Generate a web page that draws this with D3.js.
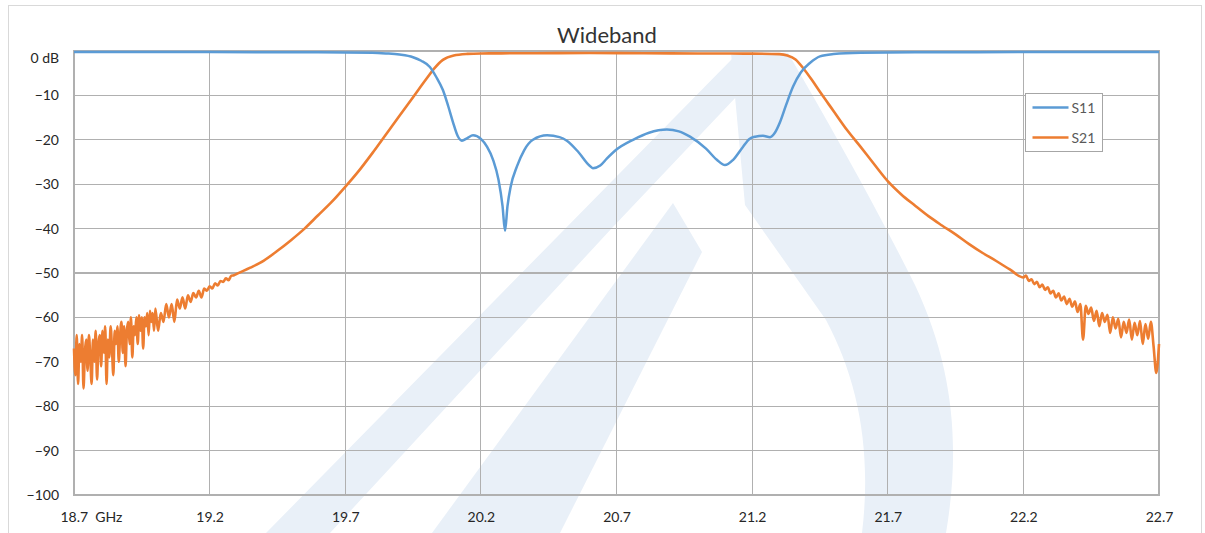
<!DOCTYPE html>
<html>
<head>
<meta charset="utf-8">
<script src="https://cdn.jsdelivr.net/npm/d3@7/dist/d3.min.js"></script>
<style>
  html, body { margin: 0; padding: 0; background: #ffffff; }
  svg { display: block; font-family: Lato, "Open Sans", sans-serif; }
</style>
</head>
<body>
<svg id="chart" width="1205" height="533"></svg>
<script>
// ---------- data ----------
const title = "Wideband";
const seriesNames = ["S11", "S21"];
const seriesColors = ["#5b9bd5", "#ed7d31"];
const xTicks = [18.7, 19.2, 19.7, 20.2, 20.7, 21.2, 21.7, 22.2, 22.7];
const yTicks = [0, -10, -20, -30, -40, -50, -60, -70, -80, -90, -100];
const xUnit = "GHz";
const yUnit = "dB";

// S11 (return loss), GHz / dB
const s11Freq = [18.7, 19.2, 19.6, 19.8, 19.85, 19.9, 19.95, 19.98, 20.012, 20.035, 20.06, 20.08, 20.097, 20.115, 20.13, 20.15, 20.171, 20.2, 20.223, 20.245, 20.265, 20.28, 20.289, 20.298, 20.31, 20.333, 20.36, 20.392, 20.444, 20.49, 20.517, 20.56, 20.6, 20.613, 20.64, 20.665, 20.7, 20.761, 20.82, 20.886, 20.93, 20.971, 21.03, 21.07, 21.1, 21.13, 21.166, 21.19, 21.211, 21.24, 21.266, 21.285, 21.303, 21.325, 21.351, 21.38, 21.413, 21.45, 21.5, 21.6, 21.8, 22.2, 22.7];
const s11Db   = [-0.25, -0.25, -0.3, -0.4, -0.55, -0.8, -1.4, -2.2, -3.6, -5.8, -8.8, -12.5, -16, -19.2, -20.2, -19.6, -19.0, -19.8, -21.6, -24.5, -29, -35, -40.5, -35, -30.5, -26, -22.3, -20, -19, -19.4, -20.2, -22.8, -25.8, -26.4, -25.8, -24.2, -22.2, -20, -18.4, -17.7, -18.1, -19.3, -22, -24.5, -25.7, -24.5, -21.6, -19.8, -19.3, -19.1, -19.4, -18.3, -16, -12.2, -8, -4.8, -2.7, -1.2, -0.7, -0.4, -0.3, -0.25, -0.25];

// S21 (insertion loss): noisy lower skirt, every 0.005 GHz from 18.700
const s21LowStartA = 18.70, s21StepA = 0.005;
const s21LowDbA = [-67, -73, -64, -75, -66, -70, -64, -76, -68, -65,
  -72, -64, -69, -75, -65, -70, -63, -74, -66, -64,
  -71, -63, -68, -62, -75, -65, -69, -62, -67, -73,
  -63, -66, -62, -70, -64, -61, -68, -62, -71, -63,
  -61, -66, -60, -69, -62, -64, -60, -66, -59.5, -63,
  -60, -67, -60, -62, -59, -64, -58.5, -61, -59, -63];
// then every 0.01 GHz from 19.00
const s21LowStartB = 19.00, s21StepB = 0.01;
const s21LowDbB = [-58, -63, -59, -61, -57, -60, -57, -61, -56, -58,
  -55.5, -58, -55, -56.5, -54.5, -55.5, -54, -55.5, -53.5, -54,
  -53, -53.5, -52.3, -52.8, -51.8, -52, -51.2, -51.6, -50.6, -50.5,
  -50.2];
// S21 smooth middle section
const s21MidFreq = [19.35, 19.4, 19.45, 19.5, 19.55, 19.6, 19.65, 19.7, 19.75, 19.8, 19.85, 19.9, 19.95, 20.0, 20.03, 20.06, 20.1, 20.15, 20.2, 20.4, 20.6, 20.8, 21.0, 21.2, 21.3, 21.33, 21.36, 21.39, 21.42, 21.45, 21.5, 21.55, 21.6, 21.65, 21.7, 21.75, 21.8, 21.85, 21.9, 21.95, 22.0, 22.05, 22.1, 22.15];
const s21MidDb   = [-48.8, -47.2, -45, -42.6, -40, -37, -34, -30.6, -27, -23, -18.8, -14.6, -10.4, -6.2, -3.8, -2.0, -1.0, -0.65, -0.55, -0.5, -0.45, -0.5, -0.55, -0.6, -0.7, -1.0, -1.9, -4, -6.5, -9.2, -13.5, -17.8, -21.6, -25.5, -29.3, -32.3, -34.8, -37.2, -39.3, -41.3, -43.5, -45.5, -47.3, -49.2];
// S21 noisy upper skirt, every 0.01 GHz from 22.20
const s21HighStart = 22.20, s21StepC = 0.01;
const s21HighDb = [-51, -50.6, -51.8, -51.4, -52.5, -52, -53.2, -52.6, -53.8, -53.2,
  -54.6, -54, -55.5, -54.6, -56.2, -55.3, -57, -55.8, -57.6, -56.4,
  -58.8, -57, -65, -57.4, -59.2, -57.8, -60.8, -58.5, -62, -59,
  -61, -59.4, -63.5, -60, -62.5, -60.3, -64.5, -61, -63.5, -60.5,
  -65, -61.2, -64, -60.8, -66, -61.5, -64.8, -61, -66.5, -72.5,
  -66];

// ---------- build ----------
const s11 = s11Freq.map((f, i) => ({ f, v: s11Db[i] }));
const s21 = [
  ...s21LowDbA.map((v, i) => ({ f: s21LowStartA + i * s21StepA, v })),
  ...s21LowDbB.map((v, i) => ({ f: s21LowStartB + i * s21StepB, v })),
  ...s21MidFreq.map((f, i) => ({ f, v: s21MidDb[i] })),
  ...s21HighDb.map((v, i) => ({ f: s21HighStart + i * s21StepC, v }))
];

const svg = d3.select("#chart");
const L = 74, R = 1159, T = 51, B = 495;
const x = d3.scaleLinear().domain([18.7, 22.7]).range([L, R]);
const y = d3.scaleLinear().domain([-100, 0]).range([B, T]);

// outer chart frame
svg.append("rect").attr("x", 8.5).attr("y", 5.5).attr("width", 1193).attr("height", 560)
  .attr("fill", "#fff").attr("stroke", "#d9d9d9").attr("stroke-width", 1);

// faint background watermark (decorative logo)
const wm = svg.append("g").attr("fill", "#e9f0f8");
wm.append("path").attr("d", "M731,53 L788,53 C830,125 875,205 915,285 C955,370 960,450 946,533 L862,533 C872,450 858,380 826,320 L745,205 Z");
wm.append("path").attr("d", "M733,58 L756,76 L612,228 L330,533 L266,533 Z");
wm.append("path").attr("d", "M673,203 L702,252 L560,533 L432,533 Z");

// grid
const grid = svg.append("g").attr("stroke", "#b0b0b0").attr("stroke-width", 1.2).attr("shape-rendering", "crispEdges");
grid.selectAll("line.v").data(xTicks).join("line")
  .attr("x1", d => x(d)).attr("x2", d => x(d)).attr("y1", T).attr("y2", B);
grid.selectAll("line.h").data(yTicks).join("line")
  .attr("x1", L).attr("x2", R).attr("y1", d => y(d)).attr("y2", d => y(d));
svg.append("rect").attr("x", L).attr("y", T).attr("width", R - L).attr("height", B - T)
  .attr("fill", "none").attr("stroke", "#b0b0b0").attr("stroke-width", 1.2).attr("shape-rendering", "crispEdges");

// axes
const yAxis = svg.append("g").attr("transform", `translate(${L},0)`)
  .call(d3.axisLeft(y).tickValues(yTicks).tickSize(0).tickPadding(15)
    .tickFormat(d => d === 0 ? `0 ${yUnit}` : d3.format("d")(d)));
yAxis.select(".domain").remove();
yAxis.selectAll("text").attr("font-size", 14).attr("fill", "#262626").attr("font-family", "Lato, sans-serif");
yAxis.selectAll(".tick").filter(d => d === 0).select("text").attr("dy", "0.85em");

const xAxis = svg.append("g").attr("transform", `translate(0,${B})`)
  .call(d3.axisBottom(x).tickValues(xTicks).tickSize(0).tickPadding(17)
    .tickFormat(d => d === 18.7 ? `${d3.format(".1f")(d)}  ${xUnit}` : d3.format(".1f")(d)));
xAxis.select(".domain").remove();
xAxis.selectAll("text").attr("font-size", 14).attr("fill", "#262626").attr("font-family", "Lato, sans-serif")
  .style("white-space", "pre");
xAxis.selectAll(".tick").filter(d => d === 18.7).select("text").attr("text-anchor", "start").attr("x", -14);

// lines
svg.append("path").datum(s21).attr("fill", "none").attr("stroke", seriesColors[1])
  .attr("stroke-width", 2.6).attr("stroke-linejoin", "round")
  .attr("d", d3.line().x(d => x(d.f)).y(d => y(d.v)).curve(d3.curveMonotoneX));
svg.append("path").datum(s11).attr("fill", "none").attr("stroke", seriesColors[0])
  .attr("stroke-width", 2.5).attr("stroke-linejoin", "round")
  .attr("d", d3.line().x(d => x(d.f)).y(d => y(d.v)).curve(d3.curveMonotoneX));

// title
svg.append("text").attr("x", 607).attr("y", 43).attr("text-anchor", "middle")
  .attr("font-size", 22).attr("fill", "#333").attr("font-family", "Lato, sans-serif").text(title);

// legend
const lg = svg.append("g").attr("transform", "translate(1025.5,93.5)");
lg.append("rect").attr("width", 77).attr("height", 58).attr("fill", "#fff").attr("stroke", "#a6a6a6");
seriesNames.forEach((n, i) => {
  const yy = 14 + i * 30;
  lg.append("line").attr("x1", 7).attr("x2", 43).attr("y1", yy).attr("y2", yy)
    .attr("stroke", seriesColors[i]).attr("stroke-width", 2.5);
  lg.append("text").attr("x", 46).attr("y", yy).attr("dy", "0.36em").attr("font-size", 14)
    .attr("fill", "#595959").attr("font-family", "Lato, sans-serif").text(n);
});
</script>
</body>
</html>
